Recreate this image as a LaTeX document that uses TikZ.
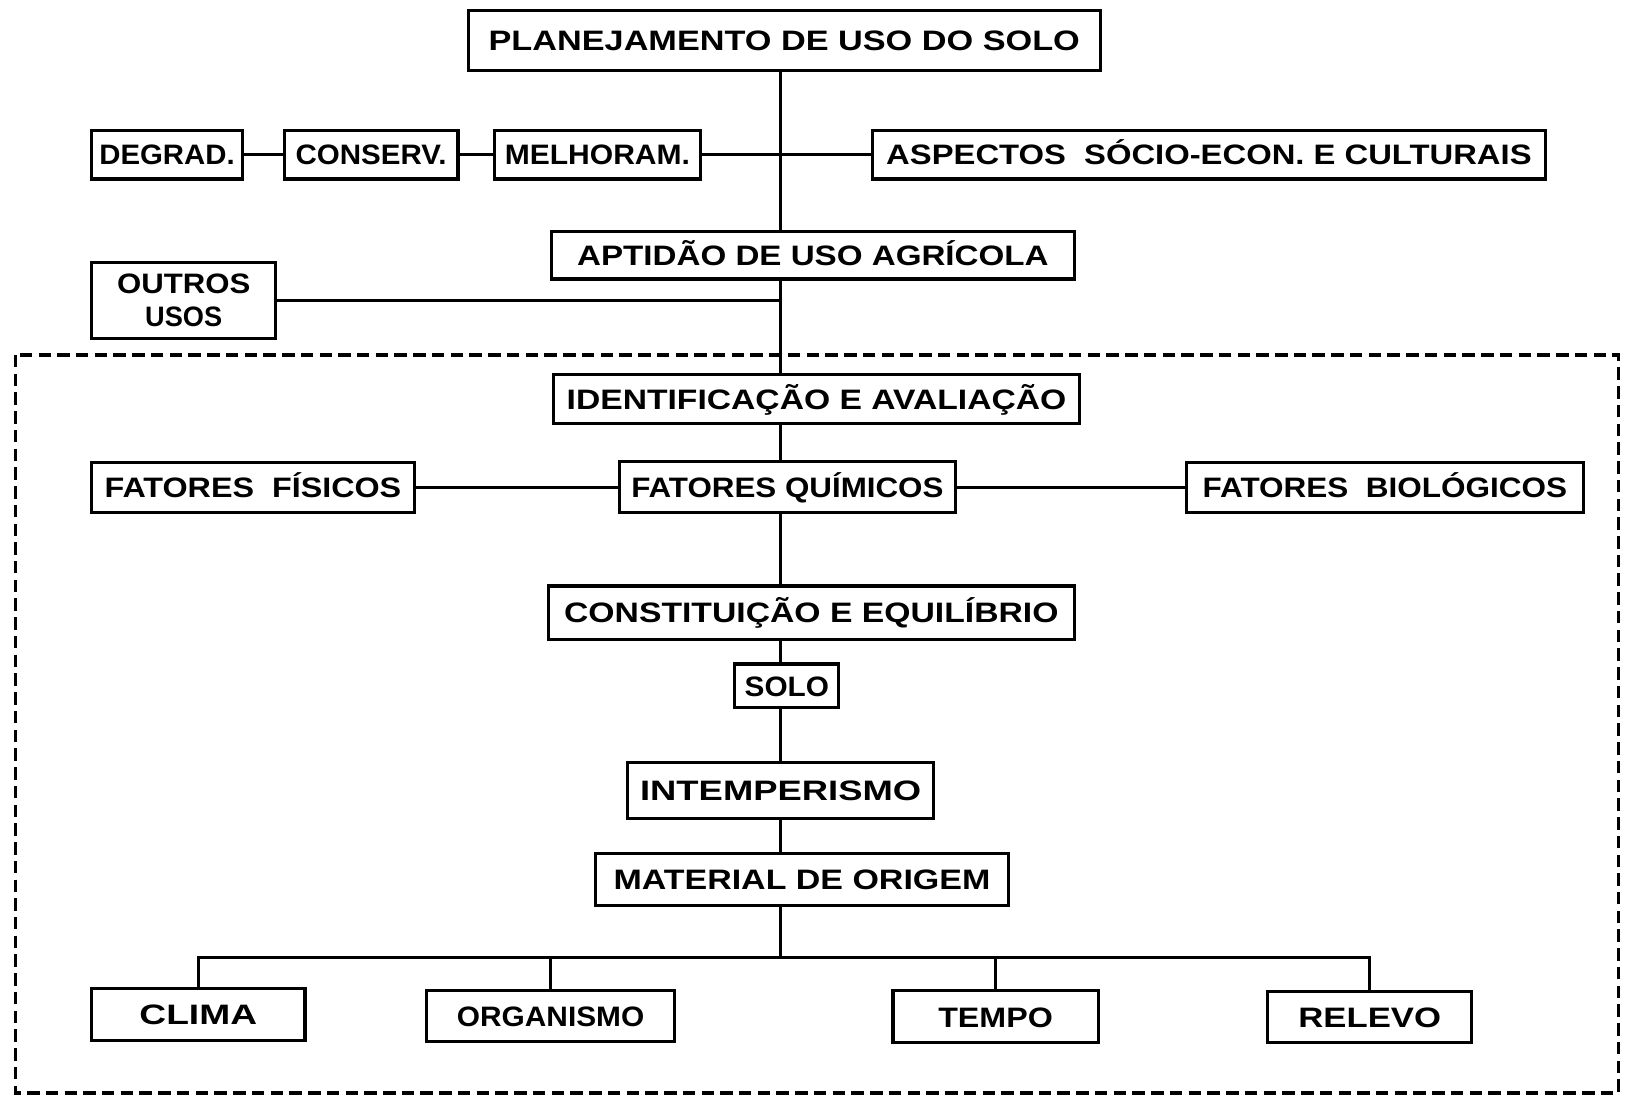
\documentclass[tikz,border=0pt]{standalone}
\usepackage{fontspec}
\setmainfont{Liberation Sans}
\usepackage{graphicx}
\newcommand{\fitw}[2]{\resizebox{#1}{\height}{#2}}
\begin{document}
\begin{tikzpicture}[x=1pt,y=1pt,
  boxbase/.style={draw, line width=3pt, inner sep=0pt, font=\fontsize{27}{31}\selectfont\bfseries, align=center},
  box/.style={boxbase, text height=19.5pt, text depth=0pt},
  conn/.style={line width=3pt},
  dashframe/.style={line width=3.2pt, dash pattern=on 12pt off 6pt}]
\useasboundingbox (0,0) rectangle (1568,-1054);
\draw[dashframe] (15,-341) rectangle (1555,-1050);

\node[box, minimum width=607pt, minimum height=58pt] (plan) at (753.5,-39) {\fitw{568pt}{PLANEJAMENTO DE USO DO SOLO}};
\node[box, minimum width=145pt, minimum height=47pt] (degrad) at (160.5,-148.5) {\fitw{130pt}{DEGRAD.}};
\node[box, minimum width=167pt, minimum height=47pt] (conserv) at (356.5,-148.5) {\fitw{145pt}{CONSERV.}};
\node[box, minimum width=198pt, minimum height=47pt] (melhor) at (574,-148.5) {\fitw{178pt}{MELHORAM.}};
\node[box, minimum width=647pt, minimum height=47pt] (aspect) at (1161.5,-148.5) {\fitw{620pt}{ASPECTOS~~SÓCIO-ECON. E CULTURAIS}};
\node[box, minimum width=502pt, minimum height=46pt] (aptid) at (781,-245) {\fitw{453pt}{APTIDÃO DE USO AGRÍCOLA}};
\node[boxbase, minimum width=177pt, minimum height=73pt] (outros) at (176.5,-288.5) {\fitw{128pt}{OUTROS}\\\fitw{74pt}{USOS}};
\node[box, minimum width=505pt, minimum height=47pt] (ident) at (784.5,-383.5) {\fitw{480pt}{IDENTIFICAÇÃO E AVALIAÇÃO}};
\node[box, minimum width=310pt, minimum height=48pt] (fis) at (243,-468) {\fitw{285pt}{FATORES~~FÍSICOS}};
\node[box, minimum width=323pt, minimum height=49pt] (quim) at (756.5,-468) {\fitw{300pt}{FATORES QUÍMICOS}};
\node[box, minimum width=381pt, minimum height=48pt] (bio) at (1330.5,-468) {\fitw{350pt}{FATORES~~BIOLÓGICOS}};
\node[box, minimum width=505pt, minimum height=51pt] (const) at (779.5,-588.5) {\fitw{475pt}{CONSTITUIÇÃO E EQUILÍBRIO}};
\node[box, minimum width=100pt, minimum height=42pt] (solo) at (756,-659) {\fitw{81pt}{SOLO}};
\node[box, minimum width=294pt, minimum height=53pt] (intemp) at (750,-759.5) {\fitw{270pt}{INTEMPERISMO}};
\node[box, minimum width=397pt, minimum height=50pt] (mat) at (770.5,-845) {\fitw{362pt}{MATERIAL DE ORIGEM}};
\node[box, minimum width=205pt, minimum height=50pt] (clima) at (190.5,-975) {\fitw{113pt}{CLIMA}};
\node[box, minimum width=238pt, minimum height=49pt] (organ) at (529,-976.5) {\fitw{180pt}{ORGANISMO}};
\node[box, minimum width=197pt, minimum height=50pt] (tempo) at (956.5,-977) {\fitw{110pt}{TEMPO}};
\node[box, minimum width=196pt, minimum height=49pt] (relevo) at (1316,-977.5) {\fitw{137pt}{RELEVO}};

\coordinate (spine) at (750,0);
\coordinate (bar) at (750,-920);
\draw[conn] (plan.south -| spine) -- (aptid.north -| spine);
\draw[conn] (aptid.south -| spine) -- (ident.north -| spine);
\draw[conn] (ident.south -| spine) -- (quim.north -| spine);
\draw[conn] (quim.south -| spine) -- (const.north -| spine);
\draw[conn] (const.south -| spine) -- (solo.north -| spine);
\draw[conn] (solo.south -| spine) -- (intemp.north -| spine);
\draw[conn] (intemp.south -| spine) -- (mat.north -| spine);
\draw[conn] (mat.south -| spine) -- (bar);
\draw[conn] (clima.north) |- (bar) -| (relevo.north);
\draw[conn] (organ.north) -- (organ.north |- bar);
\draw[conn] (tempo.north) -- (tempo.north |- bar);

\draw[conn] (degrad.east) -- (conserv.west);
\draw[conn] (conserv.east) -- (melhor.west);
\draw[conn] (melhor.east) -- (aspect.west);
\draw[conn] (outros.east) -- (outros.east -| spine);
\draw[conn] (fis.east) -- (quim.west);
\draw[conn] (quim.east) -- (bio.west);
\end{tikzpicture}
\end{document}
